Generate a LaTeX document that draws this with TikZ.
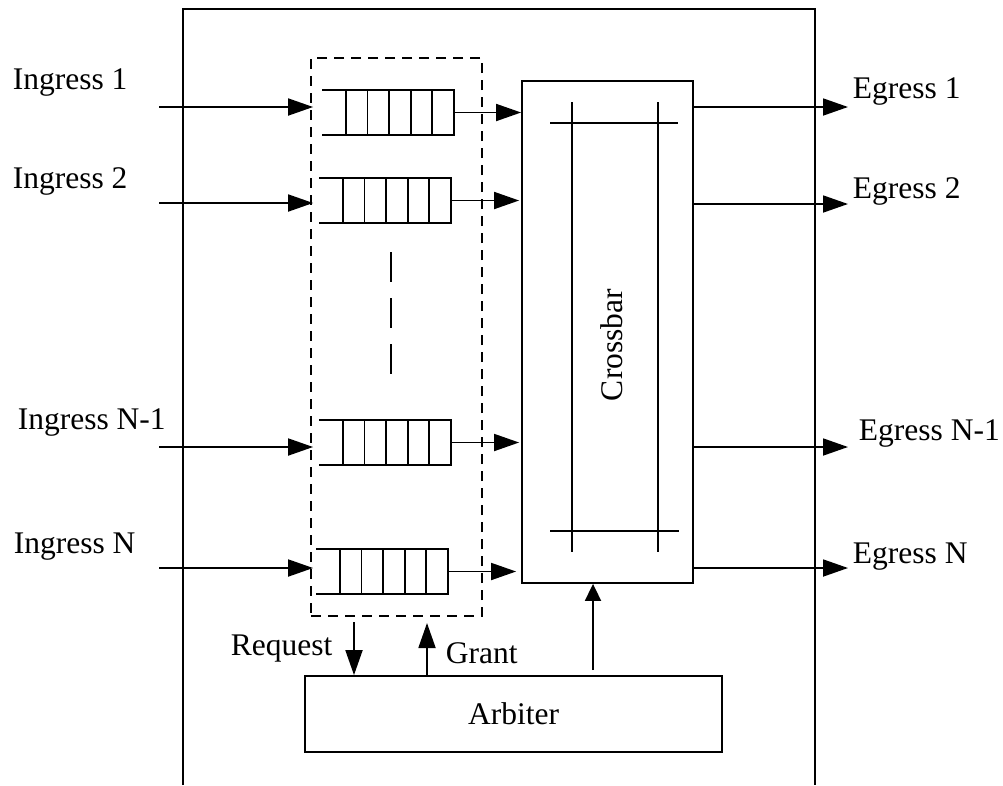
\documentclass[tikz,border=0pt]{standalone}
\usepackage{fontspec}
\setmainfont{Liberation Serif}
\usetikzlibrary{arrows.meta,calc}
\begin{document}
\begin{tikzpicture}[x=1pt,y=-1pt,
  line width=1.8pt,
  lbl/.style={inner sep=0pt, font=\fontsize{31.5pt}{36pt}\selectfont},
  blk/.style={draw, inner sep=0pt},
  qbox/.style={inner sep=0pt, minimum width=130pt, minimum height=43pt},
  arr/.style={-{Triangle[length=25pt,width=17pt]}},
  sarr/.style={-{Triangle[length=17pt,width=16pt]}}]
\useasboundingbox (0,0) rectangle (1003,785);
% outer frame
\coordinate (fbl) at (183,785);
\coordinate (ftl) at (183,9);
\coordinate (ftr) at (815,9);
\coordinate (fbr) at (815,785);
\draw (fbl) -- (ftl) -- (ftr) -- (fbr);
% main blocks
\node[blk, dash pattern=on 10pt off 7pt, minimum width=171pt, minimum height=558pt] (buf) at (396.5,337) {};
\node[blk, minimum width=171pt, minimum height=502pt] (xbar) at (607.5,332) {};
\node[blk, lbl, minimum width=417pt, minimum height=76pt] (arb) at (513.5,714) {Arbiter};
% crossbar internals
\draw (550,123) -- (678,123);
\draw (550,531) -- (679,531);
\draw (572,102) -- (572,552);
\draw (658,102) -- (658,552);
\node[lbl, rotate=90, anchor=base] (xlab) at (622,345) {Crossbar};
% queues
\node[qbox] (q1) at (388,112.5) {};
\node[qbox] (q2) at (385,200.5) {};
\node[qbox] (q3) at (385,442.5) {};
\node[qbox] (q4) at (382,571.5) {};
\foreach \q in {q1,q2,q3,q4} {
  \draw (\q.north west) -- (\q.north east) -- (\q.south east) -- (\q.south west);
  \foreach \k in {1,...,5}
    \draw ([xshift=-\k*21.6pt]\q.north east) -- ([xshift=-\k*21.6pt]\q.south east);
}
% vertical dashes between queues
\draw[line width=1.5pt, dash pattern=on 30pt off 16pt] (391,252) -- (391,375);
% ingress
\coordinate (i1) at (159,107);
\coordinate (i2) at (159,203);
\coordinate (i3) at (159,447);
\coordinate (i4) at (159,568);
\foreach \i in {i1,i2,i3,i4}
  \draw[arr] (\i) -- ([xshift=3pt]\i -| buf.west);
\node[lbl, anchor=base west] (li1) at (12,89) {Ingress 1};
\node[lbl, anchor=base west] (li2) at (12,188) {Ingress 2};
\node[lbl, anchor=base west] (li3) at (17,429) {Ingress N-1};
\node[lbl, anchor=base west] (li4) at (13,553) {Ingress N};
% queue to crossbar
\draw[arr] (q1.east) -- (q1.east -| xbar.west);
\draw[arr, shorten >=2pt] (q2.east) -- (q2.east -| xbar.west);
\draw[arr, shorten >=2pt] (q3.east) -- (q3.east -| xbar.west);
\draw[arr, shorten >=5pt] (q4.east) -- (q4.east -| xbar.west);
% egress
\coordinate (e1) at (848,107);
\coordinate (e2) at (848,204);
\coordinate (e3) at (848,447);
\coordinate (e4) at (848,568);
\foreach \e in {e1,e2,e3,e4}
  \draw[arr] (\e -| xbar.east) -- (\e);
\node[lbl, anchor=base west] (le1) at (852,98) {Egress 1};
\node[lbl, anchor=base west] (le2) at (852,198) {Egress 2};
\node[lbl, anchor=base west] (le3) at (858,440) {Egress N-1};
\node[lbl, anchor=base west] (le4) at (852,563) {Egress N};
% request / grant
\coordinate (rq) at (354,622);
\coordinate (gr) at (427,623);
\coordinate (ca) at (593,670);
\draw[arr] (rq) -- (rq |- arb.north);
\draw[arr] (gr |- arb.north) -- (gr);
\draw[sarr] (ca) -- (ca |- xbar.south);
\node[lbl, anchor=base west] (lrq) at (230,655) {Request};
\node[lbl, anchor=base west] (lgr) at (445,663) {Grant};
\end{tikzpicture}
\end{document}
